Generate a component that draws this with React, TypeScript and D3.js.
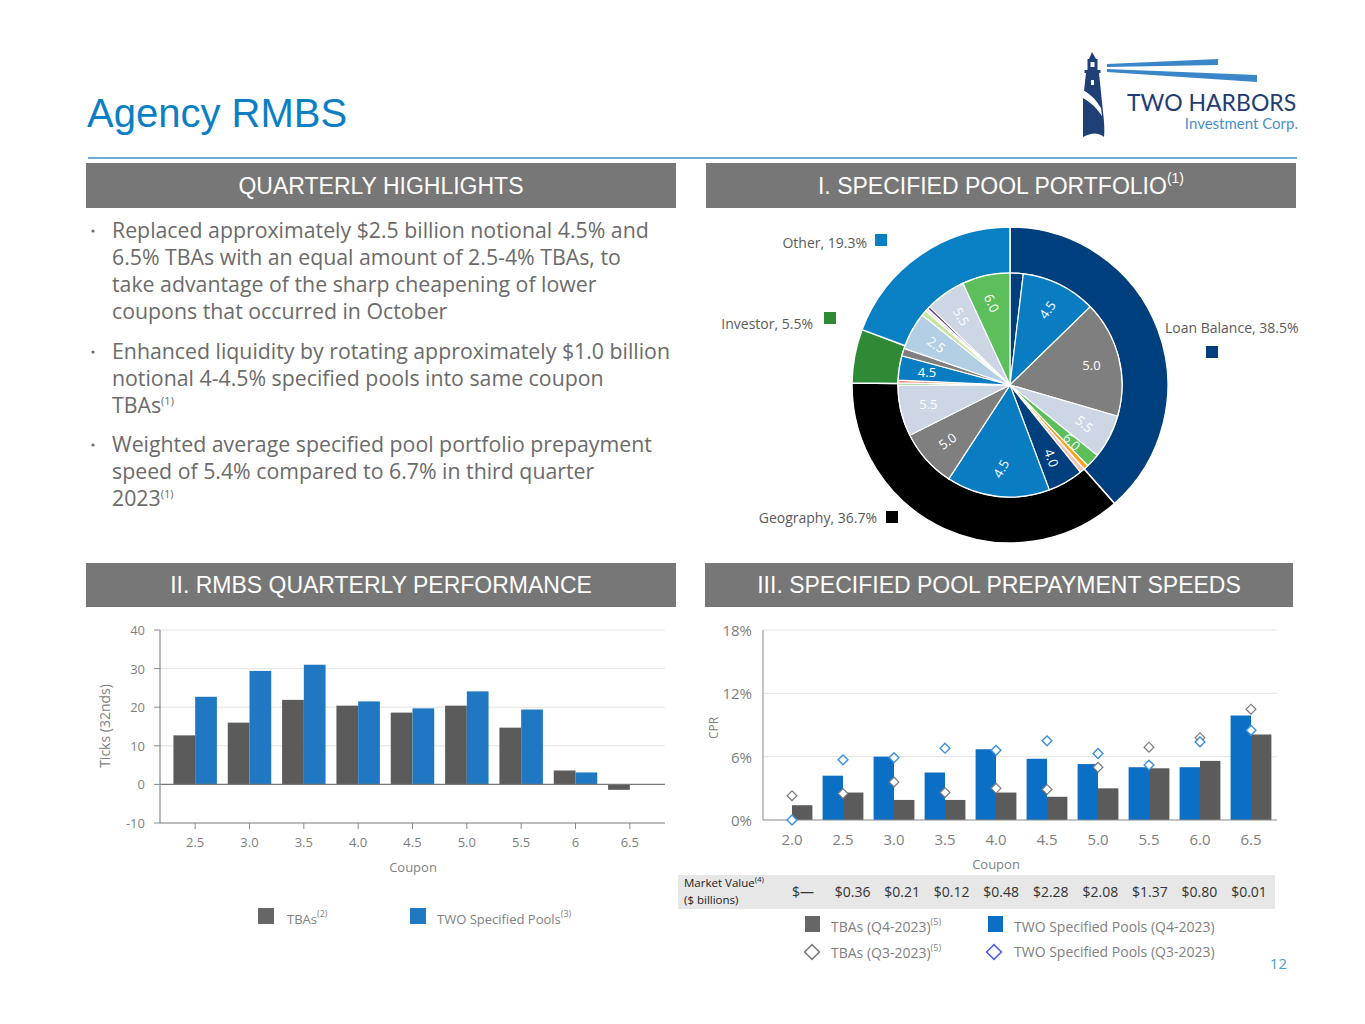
import React from 'react';
import * as d3 from 'd3';

const FONT = '"Liberation Sans", Arial, Helvetica, sans-serif';
const FONT2 = '"Open Sans", "Liberation Sans", Arial, sans-serif';

// ---------- Data ----------
const highlightBullets = [
  ["Replaced approximately $2.5 billion notional 4.5% and", "6.5% TBAs with an equal amount of 2.5-4% TBAs, to", "take advantage of the sharp cheapening of lower", "coupons that occurred in October"],
  ["Enhanced liquidity by rotating approximately $1.0 billion", "notional 4-4.5% specified pools into same coupon", "TBAs"],
  ["Weighted average specified pool portfolio prepayment", "speed of 5.4% compared to 6.7% in third quarter", "2023"],
];
const highlightNotes = ["", "(1)", "(1)"];

const outerCategories = ["Loan Balance", "Geography", "Investor", "Other"];
const outerValues = [38.5, 36.7, 5.5, 19.3];

const innerValues = [1.9, 10.8, 16.8, 6.3, 2.0, 0.7, 0.7, 5.1, 14.9, 8.4, 7.4, 0.3, 0.4, 3.5, 1.1, 5.4, 0.8, 0.4, 0.4, 5.8, 6.9];
const innerLabels = ["", "4.5", "5.0", "5.5", "6.0", "", "", "4.0", "4.5", "5.0", "5.5", "", "", "4.5", "", "2.5", "", "", "", "5.5", "6.0"];

const perfCoupons = ["2.5", "3.0", "3.5", "4.0", "4.5", "5.0", "5.5", "6", "6.5"];
const perfTBA = [12.7, 16.0, 21.9, 20.4, 18.6, 20.4, 14.7, 3.6, -1.4];
const perfPools: (number | null)[] = [22.7, 29.4, 31.0, 21.5, 19.7, 24.1, 19.4, 3.1, null];
const perfYTicks = [-10, 0, 10, 20, 30, 40];

const cprCoupons = ["2.0", "2.5", "3.0", "3.5", "4.0", "4.5", "5.0", "5.5", "6.0", "6.5"];
const poolsQ4: (number | null)[] = [null, 4.2, 6.0, 4.5, 6.7, 5.8, 5.3, 5.0, 5.0, 9.9];
const tbaQ4 = [1.4, 2.6, 1.9, 1.9, 2.6, 2.2, 3.0, 4.9, 5.6, 8.1];
const tbaQ3 = [2.3, 2.5, 3.6, 2.6, 3.0, 2.9, 5.0, 6.9, 7.8, 10.5];
const poolsQ3 = [0.0, 5.7, 5.9, 6.8, 6.6, 7.5, 6.3, 5.2, 7.4, 8.5];
const marketValues = ["$—", "$0.36", "$0.21", "$0.12", "$0.48", "$2.28", "$2.08", "$1.37", "$0.80", "$0.01"];
const cprYTicks = [0, 6, 12, 18];

// ---------- Styles ----------
const C = {
  title: '#0b7fc4',
  header: '#777777',
  body: '#6b6b6b',
  axisText: '#7f7f7f',
  grid: '#e3e3e3',
  axis: '#8a8a8a',
  gray: '#5b5b5b',
  blue: '#1f78c1',
  blue3: '#0b6fc6',
  navy: '#003f7d',
};
const outerColors = [C.navy, '#000000', '#2f8a36', '#0a80c4'];
const innerColors = ['#003f7d', '#0a7dc2', '#7f7f7f', '#cdd6e4', '#5cbf5c', '#f7a21b', '#f2c4c0', '#003f7d', '#0a7dc2', '#7f7f7f', '#cdd6e4', '#5cbf5c', '#f08a7a', '#0a7dc2', '#7f7f7f', '#b3cfe4', '#c5e69c', '#e9e9f0', '#5b3c80', '#cdd6e4', '#5cbf5c'];
const innerLabelRotation = [0, -55, 0, 40, 45, 0, 0, 70, -60, -35, 0, 0, 0, 0, 0, 35, 0, 0, 0, 60, 65];

function Header({ x, y, w, h, text, note }: { x: number; y: number; w: number; h: number; text: string; note?: string }) {
  return (
    <g>
      <rect x={x} y={y} width={w} height={h} fill={C.header} />
      <text x={x + w / 2} y={y + h / 2 + 8} textAnchor="middle" fill="#fff" fontSize={23} fontFamily={FONT}>
        {text}
        {note ? <tspan fontSize={14} dy={-11}>{note}</tspan> : null}
      </text>
    </g>
  );
}

function Logo() {
  return (
    <g>
      <polygon points="1107,64 1218,59 1218,65 1107,67" fill="#3b86c8" />
      <polygon points="1107,69 1257,75 1257,82 1107,72" fill="#3b86c8" />
      <polygon points="1092,52 1089,59 1096,59" fill="#1f3f77" />
      <rect x={1087.5} y={59} width={10} height={11} fill="#1f3f77" />
      <rect x={1090.5} y={62} width={4} height={5} fill="#fff" />
      <rect x={1084.5} y={70} width={16} height={3} fill="#1f3f77" />
      <path d="M1086,73 L1099,73 L1103,112 Q1105,128 1104,137 Q1096,130 1083,137 L1083,100 Z" fill="#1f3f77" />
      <path d="M1083,90 Q1094,96 1101,108 L1102,116 Q1094,104 1083,98 Z" fill="#fff" />
      <rect x={1091} y={80} width={3} height={5} fill="#fff" />
      <text x={1127} y={111} fill="#1f3d73" fontSize={23} fontFamily='Lato, "Open Sans", sans-serif'>TWO HARBORS</text>
      <text x={1298} y={129} textAnchor="end" fill="#4a90c8" fontSize={15} fontFamily='Lato, "Open Sans", sans-serif'>Investment Corp.</text>
    </g>
  );
}

function Highlights() {
  const lineH = 27;
  const starts = [238, 359, 452];
  return (
    <g fontFamily={FONT2} fontSize={21.3} fill={C.body}>
      {highlightBullets.map((lines, i) => (
        <g key={i}>
          <circle cx={93} cy={starts[i] - 7} r={1.6} fill={C.body} />
          {lines.map((ln, j) => (
            <text key={j} x={112} y={starts[i] + j * lineH}>
              {ln}
              {j === lines.length - 1 && highlightNotes[i] ? <tspan fontSize={11} dy={-8}>{highlightNotes[i]}</tspan> : null}
            </text>
          ))}
        </g>
      ))}
    </g>
  );
}

function Donut() {
  const cx = 1010, cy = 385;
  const rIn = 112, rOut = 158;
  const pie = d3.pie<number>().sort(null).value((d) => d);
  const outerArcs = pie(outerValues);
  const innerArcs = pie(innerValues);
  const outerArc = d3.arc<d3.PieArcDatum<number>>().innerRadius(rIn).outerRadius(rOut);
  const innerArc = d3.arc<d3.PieArcDatum<number>>().innerRadius(0).outerRadius(rIn);
  const labelArc = d3.arc<d3.PieArcDatum<number>>().innerRadius(84).outerRadius(84);
  const legendPos = [
    { x: 1165, y: 333, anchor: 'start', sx: 1206, sy: 346 },
    { x: 877, y: 523, anchor: 'end', sx: 886, sy: 511 },
    { x: 813, y: 329, anchor: 'end', sx: 824, sy: 312 },
    { x: 867, y: 248, anchor: 'end', sx: 875, sy: 234 },
  ];
  return (
    <g>
      <g transform={`translate(${cx},${cy})`}>
        {outerArcs.map((a, i) => (
          <path key={i} d={outerArc(a) || ''} fill={outerColors[i]} stroke="#fff" strokeWidth={1.5} />
        ))}
        {innerArcs.map((a, i) => (
          <path key={i} d={innerArc(a) || ''} fill={innerColors[i]} stroke="#fff" strokeWidth={1.2} />
        ))}
        {innerArcs.map((a, i) => {
          if (!innerLabels[i]) return null;
          const [lx, ly] = labelArc.centroid(a);
          return (
            <text key={'l' + i} x={lx} y={ly} transform={`rotate(${innerLabelRotation[i]},${lx},${ly})`} textAnchor="middle" dominantBaseline="central" fill="#fff" fontSize={13} fontFamily={FONT2}>
              {innerLabels[i]}
            </text>
          );
        })}
      </g>
      {outerCategories.map((c, i) => {
        const p = legendPos[i];
        return (
          <g key={c}>
            <text x={p.x} y={p.y} textAnchor={p.anchor as any} fill="#5a5a5a" fontSize={14} fontFamily={FONT2}>{`${c}, ${outerValues[i]}%`}</text>
            <rect x={p.sx} y={p.sy} width={12} height={12} fill={outerColors[i]} />
          </g>
        );
      })}
    </g>
  );
}

function PerfChart() {
  const left = 160, right = 665;
  const x = d3.scaleBand().domain(perfCoupons).range([168, 657]);
  const y = d3.scaleLinear().domain([-10, 40]).range([823, 630]);
  const bw = x.bandwidth() * 0.4;
  return (
    <g fontFamily={FONT2}>
      {perfYTicks.filter((t) => t > 0).map((t) => (
        <line key={t} x1={left} x2={right} y1={y(t)} y2={y(t)} stroke={C.grid} strokeWidth={1} />
      ))}
      {perfCoupons.map((c, i) => {
        const cxm = (x(c) as number) + x.bandwidth() / 2;
        const t = perfTBA[i];
        const p = perfPools[i];
        return (
          <g key={c}>
            <rect x={cxm - bw} y={y(Math.max(0, t))} width={bw} height={Math.abs(y(t) - y(0))} fill={C.gray} />
            {p !== null ? <rect x={cxm} y={y(Math.max(0, p))} width={bw} height={Math.abs(y(p) - y(0))} fill={C.blue} /> : null}
          </g>
        );
      })}
      <line x1={left} x2={right} y1={y(0)} y2={y(0)} stroke="#7a7a7a" strokeWidth={1.2} />
      <line x1={left} x2={left} y1={y(40)} y2={y(-10)} stroke={C.axis} strokeWidth={1.2} />
      <line x1={left} x2={right} y1={y(-10)} y2={y(-10)} stroke="#7a7a7a" strokeWidth={1.2} />
      {perfYTicks.map((t) => (
        <g key={t}>
          <line x1={left - 6} x2={left} y1={y(t)} y2={y(t)} stroke={C.axis} strokeWidth={1} />
          <text x={left - 15} y={y(t) + 5} textAnchor="end" fill={C.axisText} fontSize={13}>{t}</text>
        </g>
      ))}
      {perfCoupons.map((c) => {
        const cxm = (x(c) as number) + x.bandwidth() / 2;
        return (
          <g key={c}>
            <line x1={cxm} x2={cxm} y1={y(-10)} y2={y(-10) + 6} stroke={C.axis} strokeWidth={1} />
            <text x={cxm} y={847} textAnchor="middle" fill={C.axisText} fontSize={13}>{c}</text>
          </g>
        );
      })}
      <text x={413} y={872} textAnchor="middle" fill={C.axisText} fontSize={13}>Coupon</text>
      <text transform="translate(110,726) rotate(-90)" textAnchor="middle" fill={C.axisText} fontSize={14}>Ticks (32nds)</text>
      <rect x={258} y={908} width={16} height={16} fill="#666" />
      <text x={287} y={924} fill={C.axisText} fontSize={13}>TBAs<tspan fontSize={9} dy={-7}>(2)</tspan></text>
      <rect x={410} y={908} width={16} height={16} fill={C.blue} />
      <text x={437} y={924} fill={C.axisText} fontSize={13}>TWO Specified Pools<tspan fontSize={9} dy={-7}>(3)</tspan></text>
    </g>
  );
}

function CprChart() {
  const left = 763, right = 1277;
  const x = d3.scaleBand().domain(cprCoupons).range([766.5, 1276.5]);
  const y = d3.scaleLinear().domain([0, 18]).range([820, 630]);
  const bw = x.bandwidth() * 0.4;
  const mvX = d3.scalePoint().domain(cprCoupons).range([803, 1249]);
  const diamond = d3.symbol().type(d3.symbolSquare).size(48)();
  const bigDiamond = d3.symbol().type(d3.symbolSquare).size(110)();
  return (
    <g fontFamily={FONT2}>
      {cprYTicks.filter((t) => t > 0).map((t) => (
        <line key={t} x1={left} x2={right} y1={y(t)} y2={y(t)} stroke={C.grid} strokeWidth={1} />
      ))}
      {cprCoupons.map((c, i) => {
        const cxm = (x(c) as number) + x.bandwidth() / 2;
        const p = poolsQ4[i];
        return (
          <g key={c}>
            {p !== null ? <rect x={cxm - bw} y={y(p)} width={bw} height={y(0) - y(p)} fill={C.blue3} /> : null}
            <rect x={cxm} y={y(tbaQ4[i])} width={bw} height={y(0) - y(tbaQ4[i])} fill={C.gray} />
          </g>
        );
      })}
      <line x1={left} x2={left} y1={y(18)} y2={y(0)} stroke={C.axis} strokeWidth={1} />
      <line x1={left} x2={right} y1={y(0)} y2={y(0)} stroke="#8a8a8a" strokeWidth={1.2} />
      {cprCoupons.map((c, i) => {
        const cxm = (x(c) as number) + x.bandwidth() / 2;
        return (
          <g key={'d' + c}>
            <path d={diamond || ''} transform={`translate(${cxm},${y(tbaQ3[i])}) rotate(45)`} fill="#fff" stroke="#7a7a7a" strokeWidth={1.2} />
            <path d={diamond || ''} transform={`translate(${cxm},${y(poolsQ3[i])}) rotate(45)`} fill="#fff" stroke="#3b8fe0" strokeWidth={1.4} />
          </g>
        );
      })}
      {cprYTicks.map((t) => (
        <text key={t} x={752} y={y(t) + 6} textAnchor="end" fill={C.axisText} fontSize={15}>{`${t}%`}</text>
      ))}
      {cprCoupons.map((c) => {
        const cxm = (x(c) as number) + x.bandwidth() / 2;
        return <text key={c} x={cxm} y={845} textAnchor="middle" fill={C.axisText} fontSize={15}>{c}</text>;
      })}
      <text x={996} y={869} textAnchor="middle" fill={C.axisText} fontSize={13}>Coupon</text>
      <text transform="translate(718,728) rotate(-90)" textAnchor="middle" fill={C.axisText} fontSize={12}>CPR</text>
      <rect x={678} y={875} width={597} height={34} fill="#e7e7e7" />
      <text x={684} y={887} fill="#222" fontSize={11.5}>Market Value<tspan fontSize={8} dy={-5}>(4)</tspan></text>
      <text x={684} y={904} fill="#222" fontSize={11.5}>($ billions)</text>
      {cprCoupons.map((c, i) => (
        <text key={'mv' + c} x={mvX(c)} y={897} textAnchor="middle" fill="#333" fontSize={14}>{marketValues[i]}</text>
      ))}
      <rect x={805} y={916} width={15} height={16} fill="#666" />
      <text x={831} y={932} fill={C.axisText} fontSize={14}>TBAs (Q4-2023)<tspan fontSize={9} dy={-7}>(5)</tspan></text>
      <rect x={988} y={916} width={15} height={16} fill={C.blue3} />
      <text x={1014} y={932} fill={C.axisText} fontSize={14}>TWO Specified Pools (Q4-2023)</text>
      <path d={bigDiamond || ''} transform="translate(812,952) rotate(45)" fill="#fff" stroke="#7a7a7a" strokeWidth={1.5} />
      <text x={831} y={958} fill={C.axisText} fontSize={14}>TBAs (Q3-2023)<tspan fontSize={9} dy={-7}>(5)</tspan></text>
      <path d={bigDiamond || ''} transform="translate(994,952) rotate(45)" fill="#fff" stroke="#4a5ee8" strokeWidth={1.5} />
      <text x={1014} y={957} fill={C.axisText} fontSize={14}>TWO Specified Pools (Q3-2023)</text>
    </g>
  );
}

export default function App() {
  return (
    <svg width={1365} height={1024} style={{ position: 'absolute', left: 0, top: 0, background: '#fff' }} fontFamily={FONT}>
      <rect x={0} y={0} width={1365} height={1024} fill="#fff" />
      <text x={87} y={127} fill={C.title} fontSize={40} fontFamily={FONT}>Agency RMBS</text>
      <Logo />
      <line x1={88} x2={1297} y1={158} y2={158} stroke="#6aaed6" strokeWidth={2} />
      <Header x={86} y={163} w={590} h={45} text="QUARTERLY HIGHLIGHTS" />
      <Header x={706} y={163} w={590} h={45} text="I.  SPECIFIED POOL PORTFOLIO" note="(1)" />
      <Header x={86} y={563} w={590} h={44} text="II. RMBS QUARTERLY PERFORMANCE" />
      <Header x={705} y={563} w={588} h={44} text="III. SPECIFIED POOL PREPAYMENT SPEEDS" />
      <Highlights />
      <Donut />
      <PerfChart />
      <CprChart />
      <text x={1287} y={969} textAnchor="end" fill="#4a9fd5" fontSize={15} fontFamily={FONT2}>12</text>
    </svg>
  );
}
